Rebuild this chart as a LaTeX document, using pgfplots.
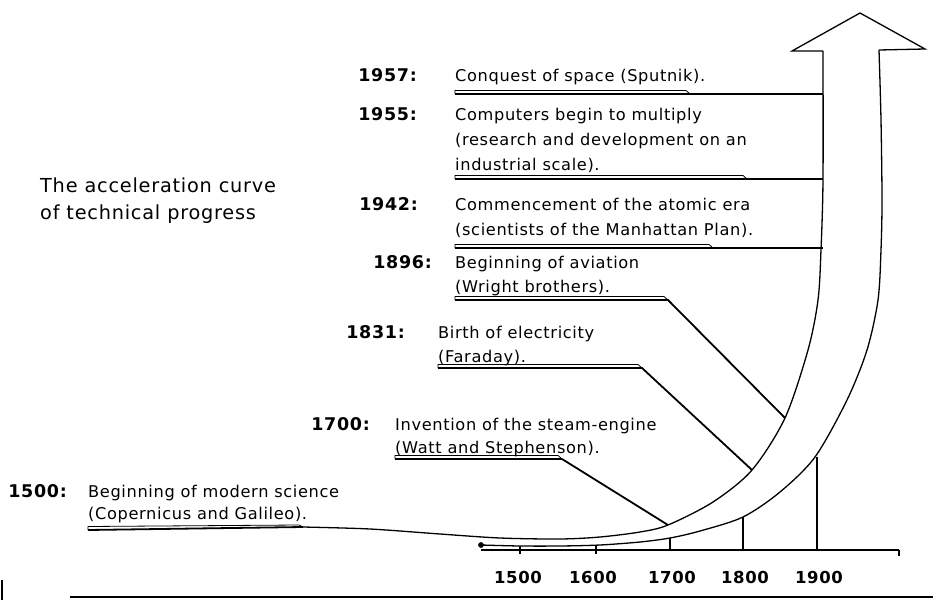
\documentclass[border=0pt]{standalone}
\usepackage{pgfplots}
\pgfplotsset{compat=1.18}
\usepackage{fontspec}
\setmainfont{DejaVu Sans}[LetterSpace=4]
\newcommand{\lab}{\fontsize{16.2}{18}\selectfont}
\newcommand{\yr}{\fontsize{17.5}{18}\selectfont\bfseries}
\newcommand{\tk}{\fontsize{16.5}{18}\selectfont\bfseries}
\newcommand{\ttl}{\fontsize{19.3}{20}\selectfont}
\begin{document}
\begin{tikzpicture}
\begin{axis}[name=ax, width=937pt, height=607pt, scale only axis,
  xmin=0, xmax=937, ymin=0, ymax=607, y dir=reverse, hide axis, clip=false,
  every axis plot/.append style={black, line width=1.3pt, no marks},
  nodes={inner sep=0pt}]
% arrow band: upper (left) boundary
\addplot[smooth, tension=0.5] coordinates {(303,527)(370,529)(440,534)(500,538)(560,539)(600,537)(640,532)(668,525)(713,502)(752,470)(785,418)(808,350)(818,300)(821,250)(823,180)(823,51)};
% lower (right) boundary
\addplot[smooth, tension=0.5] coordinates {(481,545)(520,546)(560,546)(600,545)(640,542)(670,538)(700,531)(743,517)(780,492)(815,457)(847,400)(867,350)(878,300)(881,250)(882,200)(881,120)(879,50)};
% arrow head
\addplot[sharp plot] coordinates {(823,51)(792,51)(860,13)(925,49)(879,50)};
\addplot[only marks, mark=*, mark size=2.2pt] coordinates {(481,545)};
% time axis
\addplot[sharp plot] coordinates {(481,550)(899,550)};
\addplot[sharp plot] coordinates {(520,546)(520,554)};
\addplot[sharp plot] coordinates {(596,546)(596,554)};
\addplot[sharp plot] coordinates {(670,538)(670,551)};
\addplot[sharp plot] coordinates {(743,517)(743,551)};
\addplot[sharp plot] coordinates {(817,457)(817,551)};
\addplot[sharp plot] coordinates {(899,550)(899,556)};
% bottom rule
\addplot[sharp plot, line width=2pt] coordinates {(70,597)(933,597)};
\addplot[sharp plot, line width=1.5pt] coordinates {(2,580)(2,600)};
% underlines and leaders
% 1957
\addplot[sharp plot, line width=1.8pt] coordinates {(455,94)(823,94)};
\addplot[sharp plot, line width=0.8pt] coordinates {(455,94)(455,90.5)(686,90.5)(690,94)};
% 1955
\addplot[sharp plot, line width=1.8pt] coordinates {(455,179)(823,179)};
\addplot[sharp plot, line width=0.8pt] coordinates {(455,179)(455,175.5)(743,175.5)(747,179)};
% 1942
\addplot[sharp plot, line width=1.8pt] coordinates {(455,248)(823,248)};
\addplot[sharp plot, line width=0.8pt] coordinates {(455,248)(455,244.5)(709,244.5)(713,248)};
% 1896
\addplot[sharp plot, line width=1.8pt] coordinates {(455,300)(668,300)(785,418)};
\addplot[sharp plot, line width=0.8pt] coordinates {(455,300)(455,296.5)(664,296.5)(668,300)};
% 1831
\addplot[sharp plot, line width=1.8pt] coordinates {(438,368)(642,368)(752,470)};
\addplot[sharp plot, line width=0.8pt] coordinates {(438,368)(438,364.5)(638,364.5)(642,368)};
% 1700
\addplot[sharp plot, line width=1.8pt] coordinates {(395,459)(562,459)(668,525)};
\addplot[sharp plot, line width=0.8pt] coordinates {(395,459)(395,455.5)(558,455.5)(562,459)};
% 1500
\addplot[sharp plot, line width=1.8pt] coordinates {(88,530)(303,527)};
\addplot[sharp plot, line width=0.8pt] coordinates {(88,530)(88,526.5)(299,525)(303,527)};
% texts
\node[anchor=base west, font=\ttl] at (axis cs:40,192) {The acceleration curve};
\node[anchor=base west, font=\ttl] at (axis cs:40,219) {of technical progress};
\node[anchor=base east, font=\yr] at (axis cs:417,82) {1957:};
\node[anchor=base west, font=\lab] at (axis cs:455,82) {Conquest of space (Sputnik).};
\node[anchor=base east, font=\yr] at (axis cs:417,121) {1955:};
\node[anchor=base west, font=\lab] at (axis cs:455,121) {Computers begin to multiply};
\node[anchor=base west, font=\lab] at (axis cs:455,146) {(research and development on an};
\node[anchor=base west, font=\lab] at (axis cs:455,171) {industrial scale).};
\node[anchor=base east, font=\yr] at (axis cs:418,210) {1942:};
\node[anchor=base west, font=\lab] at (axis cs:455,210) {Commencement of the atomic era};
\node[anchor=base west, font=\lab] at (axis cs:455,235) {(scientists of the Manhattan Plan).};
\node[anchor=base east, font=\yr] at (axis cs:432,268) {1896:};
\node[anchor=base west, font=\lab] at (axis cs:455,268) {Beginning of aviation};
\node[anchor=base west, font=\lab] at (axis cs:455,292) {(Wright brothers).};
\node[anchor=base east, font=\yr] at (axis cs:405,338) {1831:};
\node[anchor=base west, font=\lab] at (axis cs:438,338) {Birth of electricity};
\node[anchor=base west, font=\lab] at (axis cs:438,362) {(Faraday).};
\node[anchor=base east, font=\yr] at (axis cs:370,430) {1700:};
\node[anchor=base west, font=\lab] at (axis cs:395,430) {Invention of the steam-engine};
\node[anchor=base west, font=\lab] at (axis cs:395,453) {(Watt and Stephenson).};
\node[anchor=base east, font=\yr] at (axis cs:67,497) {1500:};
\node[anchor=base west, font=\lab] at (axis cs:88,497) {Beginning of modern science};
\node[anchor=base west, font=\lab] at (axis cs:88,519) {(Copernicus and Galileo).};
% tick labels
\node[anchor=base, font=\tk] at (axis cs:518,583) {1500};
\node[anchor=base, font=\tk] at (axis cs:593,583) {1600};
\node[anchor=base, font=\tk] at (axis cs:672,583) {1700};
\node[anchor=base, font=\tk] at (axis cs:745,583) {1800};
\node[anchor=base, font=\tk] at (axis cs:819,583) {1900};
\end{axis}
\pgfresetboundingbox
\path (ax.south west) rectangle (ax.north east);
\end{tikzpicture}
\end{document}
